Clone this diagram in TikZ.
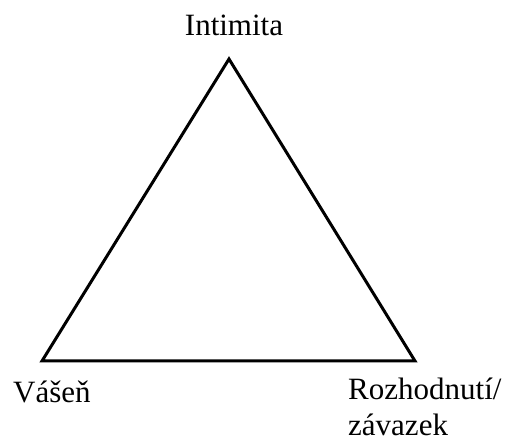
\documentclass[tikz,border=0pt]{standalone}
\usepackage{fontspec}
\setmainfont{Liberation Serif}
\begin{document}
\begin{tikzpicture}[x=1pt, y=-1pt, every node/.style={font=\fontsize{31}{36}\selectfont, inner sep=0pt}]
\tikzset{lbl/.style={align=left}}
\useasboundingbox (0,0) rectangle (507,443);
\coordinate (top) at (229,59);
\coordinate (left) at (42,361);
\coordinate (right) at (415,361);
\draw[line width=3pt, line join=miter] (top) -- (left) -- (right) -- cycle;
\node[lbl, anchor=base] (intim) at (234,36) {Intimita};
\node[lbl, anchor=base west] (vasen) at (13,403) {Vášeň};
\node[lbl, anchor=base west] (rozh) at (348,436) {Rozhodnutí/\\závazek};
\end{tikzpicture}
\end{document}
